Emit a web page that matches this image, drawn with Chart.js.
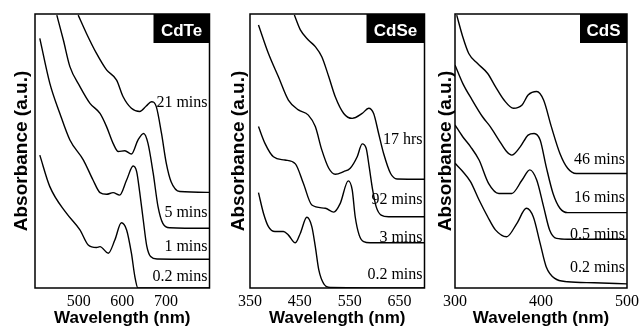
<!DOCTYPE html>
<html><head><meta charset="utf-8">
<script src="https://cdn.jsdelivr.net/npm/chart.js@4.4.0/dist/chart.umd.min.js"></script>
<style>
html,body{margin:0;padding:0;background:#fff;width:643px;height:329px;overflow:hidden}
canvas{position:absolute;top:0;display:block}
</style></head><body>
<canvas id="c1" width="215" height="329" style="left:0"></canvas>
<canvas id="c2" width="215" height="329" style="left:215px"></canvas>
<canvas id="c3" width="213" height="329" style="left:430px"></canvas>
<script>
// [wavelength nm, absorbance a.u. (offset traces, 0..100 of frame)]
const cdte02 = [[411,48.5],[434,37.0],[472,27.3],[503,21.2],[522,15.7],[541,14.8],[549,15.1],[568,12.7],[583,17.5],[598,23.8],[610,21.2],[621,12.7],[629,4.1],[636,0],[800,0]];
const cdte1  = [[411,91.1],[434,74.7],[457,63.7],[480,54.0],[511,46.7],[533,39.4],[549,34.8],[564,34.2],[579,34.8],[594,33.9],[610,39.4],[625,44.5],[633,42.5],[640,35.0],[648,25.0],[656,15.5],[665,11.5],[680,10.6],[800,10.5]];
const cdte5  = [[450,99.6],[465,90.5],[480,80.8],[503,73.5],[526,67.4],[549,63.7],[564,58.9],[579,52.8],[591,49.8],[606,50.1],[621,48.9],[636,54.0],[649,56.4],[659,52.8],[671,41.8],[682,29.7],[693,23.6],[709,22.0],[800,21.8]];
const cdte21 = [[499,99.6],[518,92.9],[541,85.6],[564,79.6],[587,75.9],[602,69.8],[621,65.6],[640,64.4],[655,66.4],[667,68.0],[678,66.2],[690,56.4],[701,45.5],[712,38.8],[732,35.2],[800,34.9]];

const cdse02  = [[367,34.8],[377,27.3],[387,22.4],[400,20.6],[417,20.6],[427,19.3],[441,16.5],[451,20.0],[464,25.8],[474,22.4],[481,15.1],[488,6.6],[498,1.5],[511,0.2],[700,0]];
const cdse3   = [[367,58.9],[380,52.8],[397,47.9],[420,46.7],[441,45.3],[457,38.2],[474,30.3],[501,29.1],[518,27.7],[531,30.9],[547,39.1],[555,35.8],[561,26.0],[569,19.3],[578,16.9],[591,16.5],[700,16.5]];
const cdse92  = [[367,96.0],[387,85.6],[407,77.1],[427,68.6],[447,65.0],[467,63.1],[481,58.9],[494,50.4],[508,43.7],[521,41.5],[538,42.5],[551,43.7],[565,47.9],[575,52.6],[583,51.0],[589,44.3],[596,35.8],[603,29.7],[613,26.6],[628,26.0],[700,26.0]];
const cdse17h = [[439,99.6],[451,94.2],[467,90.5],[481,88.1],[494,84.4],[508,77.1],[521,69.8],[538,63.7],[555,61.9],[575,63.7],[588,65.6],[598,63.7],[608,56.4],[618,49.1],[632,41.8],[645,39.8],[700,39.7]];

const cds02 = [[300,45.5],[309,42.5],[318,38.8],[328,32.1],[338,26.0],[347,21.2],[360,18.7],[372,23.6],[383,29.1],[391,26.0],[399,16.3],[406,7.8],[416,3.5],[431,2.3],[462,1.9],[500,1.5]];
const cds05 = [[300,59.5],[309,55.2],[318,51.6],[328,46.7],[339,38.2],[351,34.5],[366,34.5],[378,39.4],[387,43.1],[395,39.4],[403,29.7],[410,21.2],[418,18.1],[431,17.8],[500,17.8]];
const cds16 = [[300,81.4],[309,74.7],[320,68.6],[332,62.5],[341,58.9],[351,54.0],[360,49.8],[366,48.5],[376,51.6],[385,55.8],[392,56.4],[399,54.0],[406,44.3],[414,34.5],[422,29.1],[431,27.5],[500,27.5]];
const cds46 = [[302,99.6],[309,91.7],[316,85.6],[326,82.0],[338,78.3],[347,73.5],[357,68.6],[368,65.6],[378,66.8],[385,70.4],[395,71.7],[403,68.6],[412,58.9],[422,49.1],[431,43.7],[441,41.8],[500,41.8]];

const cdteNames = ["0.2 mins", "1 mins", "5 mins", "21 mins"];
const cdseNames = ["0.2 mins", "3 mins", "92 mins", "17 hrs"];
const cdsNames  = ["0.2 mins", "0.5 mins", "16 mins", "46 mins"];
const cdteTicks = [500, 600, 700];
const cdseTicks = [350, 450, 550, 650];
const cdsTicks  = [300, 400, 500];

const SANS = '"Liberation Sans", Arial, sans-serif';
const SERIF = '"Liberation Serif", "Times New Roman", serif';

// frame, material tag and trace labels
const panelDeco = {
  id: "panelDeco",
  afterDraw(chart, args, o) {
    const { ctx, chartArea: a, scales: { y } } = chart;
    ctx.save();
    ctx.strokeStyle = "#000"; ctx.lineWidth = 1.5;
    ctx.strokeRect(a.left, a.top, a.right - a.left, a.bottom - a.top);
    ctx.fillStyle = "#000";
    ctx.fillRect(a.right - o.boxW, a.top, o.boxW, 29);
    ctx.fillStyle = "#fff"; ctx.font = "bold 17px " + SANS;
    ctx.textAlign = "center"; ctx.textBaseline = "alphabetic";
    ctx.fillText(o.tag, a.right - o.boxW / 2, a.top + 22);
    ctx.fillStyle = "#000"; ctx.font = "16px " + SERIF;
    ctx.textAlign = "right"; ctx.textBaseline = "middle";
    o.names.forEach((t, i) => ctx.fillText(t, a.right - 2, y.getPixelForValue(o.labelY[i])));
    ctx.restore();
  }
};

function panel(id, p) {
  new Chart(document.getElementById(id), {
    type: "line",
    data: {
      datasets: p.series.map(d => ({
        data: d, borderColor: "#000", borderWidth: 1.4, pointRadius: 0,
        cubicInterpolationMode: "monotone", fill: false
      }))
    },
    options: {
      responsive: false, animation: false, events: [],
      layout: { padding: { left: p.padL, right: p.padR, top: 14, bottom: 0 } },
      plugins: {
        legend: { display: false }, tooltip: { enabled: false },
        panelDeco: { tag: p.tag, boxW: p.boxW, names: p.names, labelY: p.labelY }
      },
      scales: {
        x: {
          type: "linear", min: p.min, max: p.max,
          grid: { display: false, drawTicks: false }, border: { display: false },
          afterBuildTicks: s => { s.ticks = p.ticks.map(v => ({ value: v })); },
          afterFit: s => { s.height = 41; },
          ticks: { padding: 4, color: "#000", autoSkip: false, maxRotation: 0,
                   font: { family: SERIF, size: 16 } },
          title: { display: true, text: "Wavelength (nm)", color: "#000", padding: 0,
                   font: { family: SANS, size: 17, weight: "bold", lineHeight: 1.2 } }
        },
        y: {
          min: 0, max: 100,
          grid: { display: false, drawTicks: false }, border: { display: false },
          ticks: { display: false },
          afterFit: s => { s.width = p.yW; },
          title: { display: true, text: "Absorbance (a.u.)", color: "#000", padding: 0,
                   font: { family: SANS, size: 19, weight: "bold", lineHeight: 1 } }
        }
      }
    },
    plugins: [panelDeco]
  });
}

panel("c1", { series: [cdte02, cdte1, cdte5, cdte21], names: cdteNames, labelY: [4.0, 15.0, 27.4, 67.5],
  ticks: cdteTicks, min: 400, max: 800, tag: "CdTe", boxW: 56, padL: 12.5, yW: 22.5, padR: 5.5 });
panel("c2", { series: [cdse02, cdse3, cdse92, cdse17h], names: cdseNames, labelY: [4.7, 18.2, 32.1, 54.0],
  ticks: cdseTicks, min: 350, max: 700, tag: "CdSe", boxW: 58, padL: 14.5, yW: 20.5, padR: 5.5 });
panel("c3", { series: [cds02, cds05, cds16, cds46], names: cdsNames, labelY: [7.3, 19.3, 32.8, 46.7],
  ticks: cdsTicks, min: 300, max: 500, tag: "CdS", boxW: 47, padL: 6.5, yW: 18.5, padR: 13 });
</script>
</body></html>
